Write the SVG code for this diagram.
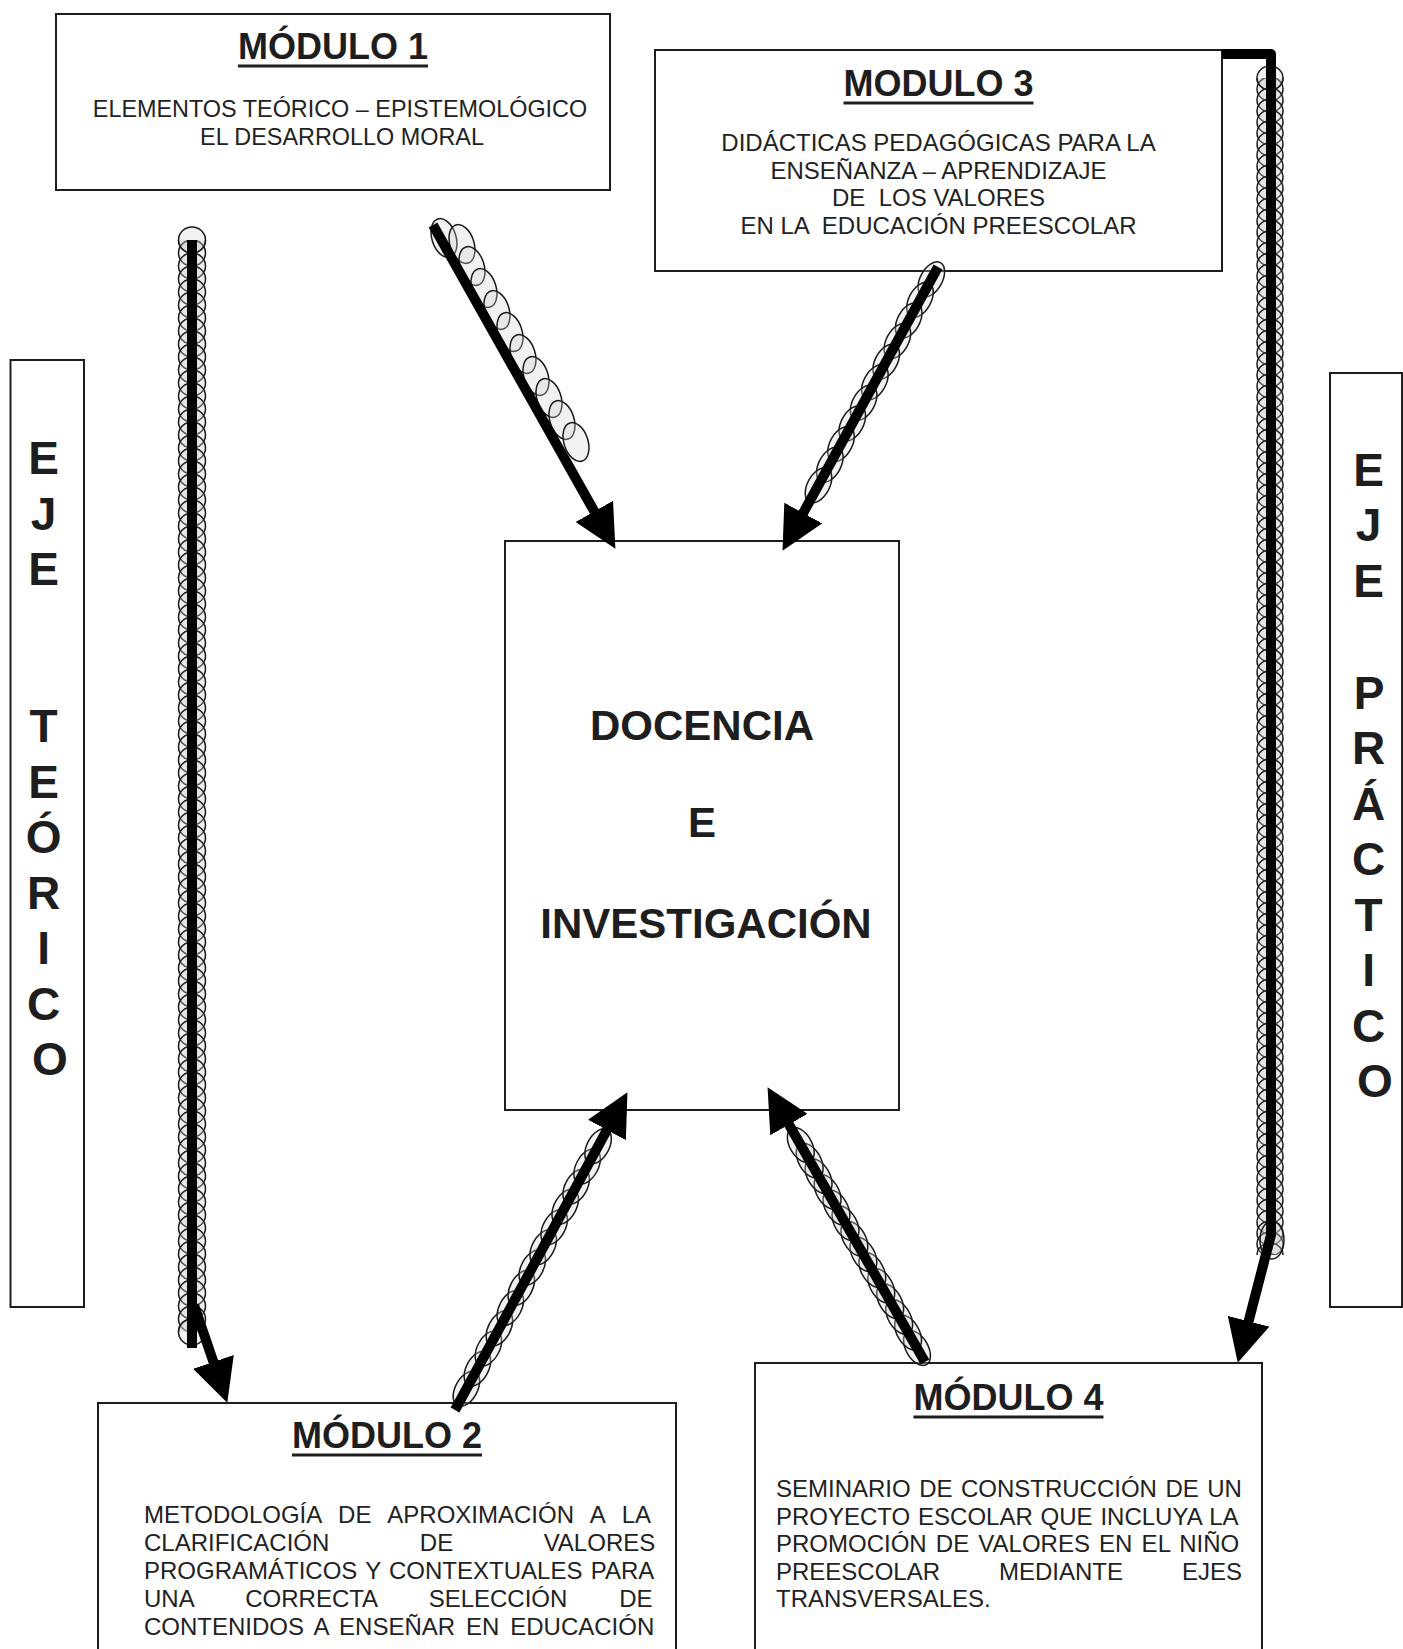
<svg xmlns="http://www.w3.org/2000/svg" xmlns:xlink="http://www.w3.org/1999/xlink" width="1403" height="1649" viewBox="0 0 1403 1649">
<style>
  .box{fill:#fff;stroke:#1e1e1e;stroke-width:2}
  .title{font-family:"Liberation Sans",Arial,sans-serif;font-weight:bold;font-size:36px;text-anchor:middle;fill:#1e1e1e}
  .uline{stroke:#1e1e1e;stroke-width:3}
  .body{font-family:"Liberation Sans",Arial,sans-serif;font-size:24px;fill:#222}
  .mid{text-anchor:middle}
  .big{font-family:"Liberation Sans",Arial,sans-serif;font-weight:bold;font-size:42px;text-anchor:middle;fill:#1e1e1e}
  .axis{font-family:"Liberation Sans",Arial,sans-serif;font-weight:bold;font-size:46px;text-anchor:middle;fill:#1e1e1e}
  .ov{fill:#d0d0d0;fill-opacity:0.3;stroke:#1a1a1a;stroke-width:1.5}
  .wire{fill:none;stroke:#000;stroke-width:10;stroke-linejoin:round}
  .arr{marker-end:url(#ah)}
</style>
<defs>
  <marker id="ah" viewBox="0 0 10 10" refX="1" refY="5" markerWidth="4.3" markerHeight="4.3" orient="auto" markerUnits="strokeWidth">
    <path d="M0,0 L10,5 L0,10 z" fill="#000"/>
  </marker>
  <pattern id="chainL" patternUnits="userSpaceOnUse" x="175" y="240" width="34" height="13">
    <ellipse class="ov" cx="17" cy="0" rx="13.5" ry="13"/>
    <ellipse class="ov" cx="17" cy="13" rx="13.5" ry="13"/>
  </pattern>
  <pattern id="chainR" patternUnits="userSpaceOnUse" x="1254" y="78" width="34" height="11">
    <ellipse class="ov" cx="16" cy="-11" rx="13" ry="12"/>
    <ellipse class="ov" cx="16" cy="0" rx="13" ry="12"/>
    <ellipse class="ov" cx="16" cy="11" rx="13" ry="12"/>
    <ellipse class="ov" cx="16" cy="22" rx="13" ry="12"/>
  </pattern>
  <ellipse id="ov1" class="ov" rx="20" ry="12"/>
  <ellipse id="ovD" class="ov" rx="19" ry="11"/>
</defs>
<rect width="1403" height="1649" fill="#fff"/>

<g id="module1">
  <rect class="box" x="56" y="14" width="554" height="176"/>
  <text class="title" x="333" y="59">MÓDULO 1</text>
  <line class="uline" x1="238" y1="66" x2="428" y2="66"/>
  <text class="body mid" x="340" y="117" style="font-size:23.4px">ELEMENTOS TEÓRICO – EPISTEMOLÓGICO</text>
  <text class="body mid" x="342" y="145" style="font-size:23.4px">EL DESARROLLO MORAL</text>
</g>

<g id="module3">
  <rect class="box" x="655" y="50" width="567" height="221"/>
  <text class="title" x="938.5" y="96">MODULO 3</text>
  <line class="uline" x1="843.5" y1="103" x2="1033.5" y2="103"/>
  <text class="body mid" x="938.5" y="151">DIDÁCTICAS PEDAGÓGICAS PARA LA</text>
  <text class="body mid" x="938.5" y="179">ENSEÑANZA – APRENDIZAJE</text>
  <text class="body mid" x="938.5" y="206">DE &#160;LOS VALORES</text>
  <text class="body mid" x="938.5" y="234">EN LA &#160;EDUCACIÓN PREESCOLAR</text>
</g>

<g id="eje-teorico">
  <rect class="box" x="10.5" y="360" width="73.5" height="947"/>
  <text class="axis">
    <tspan x="50" y="474">E</tspan>
    <tspan x="50" y="529.5">J</tspan>
    <tspan x="50" y="585">E</tspan>
    <tspan x="50" y="742">T</tspan>
    <tspan x="50" y="797.5">E</tspan>
    <tspan x="50" y="853">Ó</tspan>
    <tspan x="50" y="908.5">R</tspan>
    <tspan x="50" y="964">I</tspan>
    <tspan x="50" y="1019.5">C</tspan>
    <tspan x="50" y="1075">O</tspan>
  </text>
</g>

<g id="eje-practico">
  <rect class="box" x="1330" y="373" width="72" height="934"/>
  <text class="axis">
    <tspan x="1375" y="485.5">E</tspan>
    <tspan x="1375" y="541">J</tspan>
    <tspan x="1375" y="596.5">E</tspan>
    <tspan x="1375" y="708.5">P</tspan>
    <tspan x="1375" y="764">R</tspan>
    <tspan x="1375" y="819.5">Á</tspan>
    <tspan x="1375" y="875">C</tspan>
    <tspan x="1375" y="930.5">T</tspan>
    <tspan x="1375" y="986">I</tspan>
    <tspan x="1375" y="1041.5">C</tspan>
    <tspan x="1375" y="1097">O</tspan>
  </text>
</g>

<g id="docencia">
  <rect class="box" x="505" y="541" width="394" height="569"/>
  <text class="big" x="702" y="740">DOCENCIA</text>
  <text class="big" x="702" y="837">E</text>
  <text class="big" x="706" y="938">INVESTIGACIÓN</text>
</g>

<g id="module2">
  <rect class="box" x="98" y="1403" width="578" height="270"/>
  <text class="title" x="387" y="1448">MÓDULO 2</text>
  <line class="uline" x1="292" y1="1455" x2="482" y2="1455"/>
  <text class="body" x="144" y="1523" style="word-spacing:10.5px">METODOLOGÍA DE APROXIMACIÓN A LA</text>
  <text class="body" x="144" y="1551" style="word-spacing:83.8px">CLARIFICACIÓN DE VALORES</text>
  <text class="body" x="144" y="1579" style="word-spacing:1.6px">PROGRAMÁTICOS Y CONTEXTUALES PARA</text>
  <text class="body" x="144" y="1607" style="word-spacing:45.2px">UNA CORRECTA SELECCIÓN DE</text>
  <text class="body" x="144" y="1635" style="word-spacing:4.2px">CONTENIDOS A ENSEÑAR EN EDUCACIÓN</text>
</g>

<g id="module4">
  <rect class="box" x="755" y="1363" width="507" height="310"/>
  <text class="title" x="1008.5" y="1410">MÓDULO 4</text>
  <line class="uline" x1="913.5" y1="1417" x2="1103.5" y2="1417"/>
  <text class="body" x="776" y="1497" style="word-spacing:1.8px">SEMINARIO DE CONSTRUCCIÓN DE UN</text>
  <text class="body" x="776" y="1524.5" style="word-spacing:1.15px">PROYECTO ESCOLAR QUE INCLUYA LA</text>
  <text class="body" x="776" y="1552" style="word-spacing:2.5px">PROMOCIÓN DE VALORES EN EL NIÑO</text>
  <text class="body" x="776" y="1579.5" style="word-spacing:52.3px">PREESCOLAR MEDIANTE EJES</text>
  <text class="body" x="776" y="1607">TRANSVERSALES.</text>
</g>

<g id="connectors">
  <!-- coil chains -->
  <rect x="175" y="240" width="34" height="1092" fill="url(#chainL)"/>
  <ellipse class="ov" cx="192" cy="240" rx="13.5" ry="13"/>
  <ellipse class="ov" cx="192" cy="1332" rx="13.5" ry="13"/>
  <rect x="1254" y="78" width="34" height="1177" fill="url(#chainR)"/>
  <ellipse class="ov" cx="1270" cy="78" rx="13" ry="12"/>
  <ellipse class="ov" cx="1272" cy="1240" rx="12" ry="19"/>

  <g id="chain-m1">
    <use xlink:href="#ov1" href="#ov1" transform="translate(444,238) rotate(72)"/>
    <use xlink:href="#ov1" href="#ov1" transform="translate(462,244) rotate(72)"/>
    <use xlink:href="#ov1" href="#ov1" transform="translate(472,266) rotate(72)"/>
    <use xlink:href="#ov1" href="#ov1" transform="translate(484,288) rotate(72)"/>
    <use xlink:href="#ov1" href="#ov1" transform="translate(497,310) rotate(72)"/>
    <use xlink:href="#ov1" href="#ov1" transform="translate(510,332) rotate(72)"/>
    <use xlink:href="#ov1" href="#ov1" transform="translate(523,354) rotate(72)"/>
    <use xlink:href="#ov1" href="#ov1" transform="translate(536,376) rotate(72)"/>
    <use xlink:href="#ov1" href="#ov1" transform="translate(549,398) rotate(72)"/>
    <use xlink:href="#ov1" href="#ov1" transform="translate(562,420) rotate(72)"/>
    <use xlink:href="#ov1" href="#ov1" transform="translate(576,442) rotate(72)"/>
  </g>
  <g id="chain-m3">
    <use xlink:href="#ovD" href="#ovD" transform="translate(931.3,279.3) rotate(118.7)"/>
    <use xlink:href="#ovD" href="#ovD" transform="translate(920,299.9) rotate(118.7)"/>
    <use xlink:href="#ovD" href="#ovD" transform="translate(908.7,320.5) rotate(118.7)"/>
    <use xlink:href="#ovD" href="#ovD" transform="translate(897.4,341.1) rotate(118.7)"/>
    <use xlink:href="#ovD" href="#ovD" transform="translate(886.2,361.7) rotate(118.7)"/>
    <use xlink:href="#ovD" href="#ovD" transform="translate(874.9,382.3) rotate(118.7)"/>
    <use xlink:href="#ovD" href="#ovD" transform="translate(863.6,402.9) rotate(118.7)"/>
    <use xlink:href="#ovD" href="#ovD" transform="translate(852.3,423.5) rotate(118.7)"/>
    <use xlink:href="#ovD" href="#ovD" transform="translate(841,444.2) rotate(118.7)"/>
    <use xlink:href="#ovD" href="#ovD" transform="translate(829.8,464.8) rotate(118.7)"/>
    <use xlink:href="#ovD" href="#ovD" transform="translate(818.5,485.4) rotate(118.7)"/>
  </g>
  <g id="chain-m2">
    <use xlink:href="#ovD" href="#ovD" transform="translate(466.4,1388.9) rotate(-61.5)"/>
    <use xlink:href="#ovD" href="#ovD" transform="translate(477.4,1368.7) rotate(-61.5)"/>
    <use xlink:href="#ovD" href="#ovD" transform="translate(488.4,1348.5) rotate(-61.5)"/>
    <use xlink:href="#ovD" href="#ovD" transform="translate(499.4,1328.3) rotate(-61.5)"/>
    <use xlink:href="#ovD" href="#ovD" transform="translate(510.3,1308) rotate(-61.5)"/>
    <use xlink:href="#ovD" href="#ovD" transform="translate(521.3,1287.8) rotate(-61.5)"/>
    <use xlink:href="#ovD" href="#ovD" transform="translate(532.3,1267.6) rotate(-61.5)"/>
    <use xlink:href="#ovD" href="#ovD" transform="translate(543.2,1247.4) rotate(-61.5)"/>
    <use xlink:href="#ovD" href="#ovD" transform="translate(554.2,1227.2) rotate(-61.5)"/>
    <use xlink:href="#ovD" href="#ovD" transform="translate(565.2,1206.9) rotate(-61.5)"/>
    <use xlink:href="#ovD" href="#ovD" transform="translate(576.2,1186.7) rotate(-61.5)"/>
    <use xlink:href="#ovD" href="#ovD" transform="translate(587.1,1166.5) rotate(-61.5)"/>
    <use xlink:href="#ovD" href="#ovD" transform="translate(598.1,1146.3) rotate(-61.5)"/>
  </g>
  <g id="chain-m4">
    <use xlink:href="#ovD" href="#ovD" transform="translate(917,1348.1) rotate(60.2)"/>
    <use xlink:href="#ovD" href="#ovD" transform="translate(908.1,1332.5) rotate(60.2)"/>
    <use xlink:href="#ovD" href="#ovD" transform="translate(899.2,1316.9) rotate(60.2)"/>
    <use xlink:href="#ovD" href="#ovD" transform="translate(890.2,1301.2) rotate(60.2)"/>
    <use xlink:href="#ovD" href="#ovD" transform="translate(881.3,1285.6) rotate(60.2)"/>
    <use xlink:href="#ovD" href="#ovD" transform="translate(872.3,1270) rotate(60.2)"/>
    <use xlink:href="#ovD" href="#ovD" transform="translate(863.4,1254.4) rotate(60.2)"/>
    <use xlink:href="#ovD" href="#ovD" transform="translate(854.4,1238.7) rotate(60.2)"/>
    <use xlink:href="#ovD" href="#ovD" transform="translate(845.5,1223.1) rotate(60.2)"/>
    <use xlink:href="#ovD" href="#ovD" transform="translate(836.5,1207.5) rotate(60.2)"/>
    <use xlink:href="#ovD" href="#ovD" transform="translate(827.6,1191.9) rotate(60.2)"/>
    <use xlink:href="#ovD" href="#ovD" transform="translate(818.6,1176.2) rotate(60.2)"/>
    <use xlink:href="#ovD" href="#ovD" transform="translate(809.7,1160.6) rotate(60.2)"/>
    <use xlink:href="#ovD" href="#ovD" transform="translate(800.8,1145) rotate(60.2)"/>
  </g>

  <!-- thick arrows -->
  <path class="wire" d="M192,240 V1348"/>
  <path class="wire arr" d="M194,1305 L214.8,1366"/>
  <path class="wire arr" d="M1222,54 H1271 V1235 L1247.5,1325.4"/>
  <path class="wire arr" d="M433,225 L596.4,515.1"/>
  <path class="wire arr" d="M938,267 L801.1,516.8"/>
  <path class="wire arr" d="M455,1410 L609,1126.2"/>
  <path class="wire arr" d="M925,1362 L786.8,1120.8"/>
</g>
</svg>
